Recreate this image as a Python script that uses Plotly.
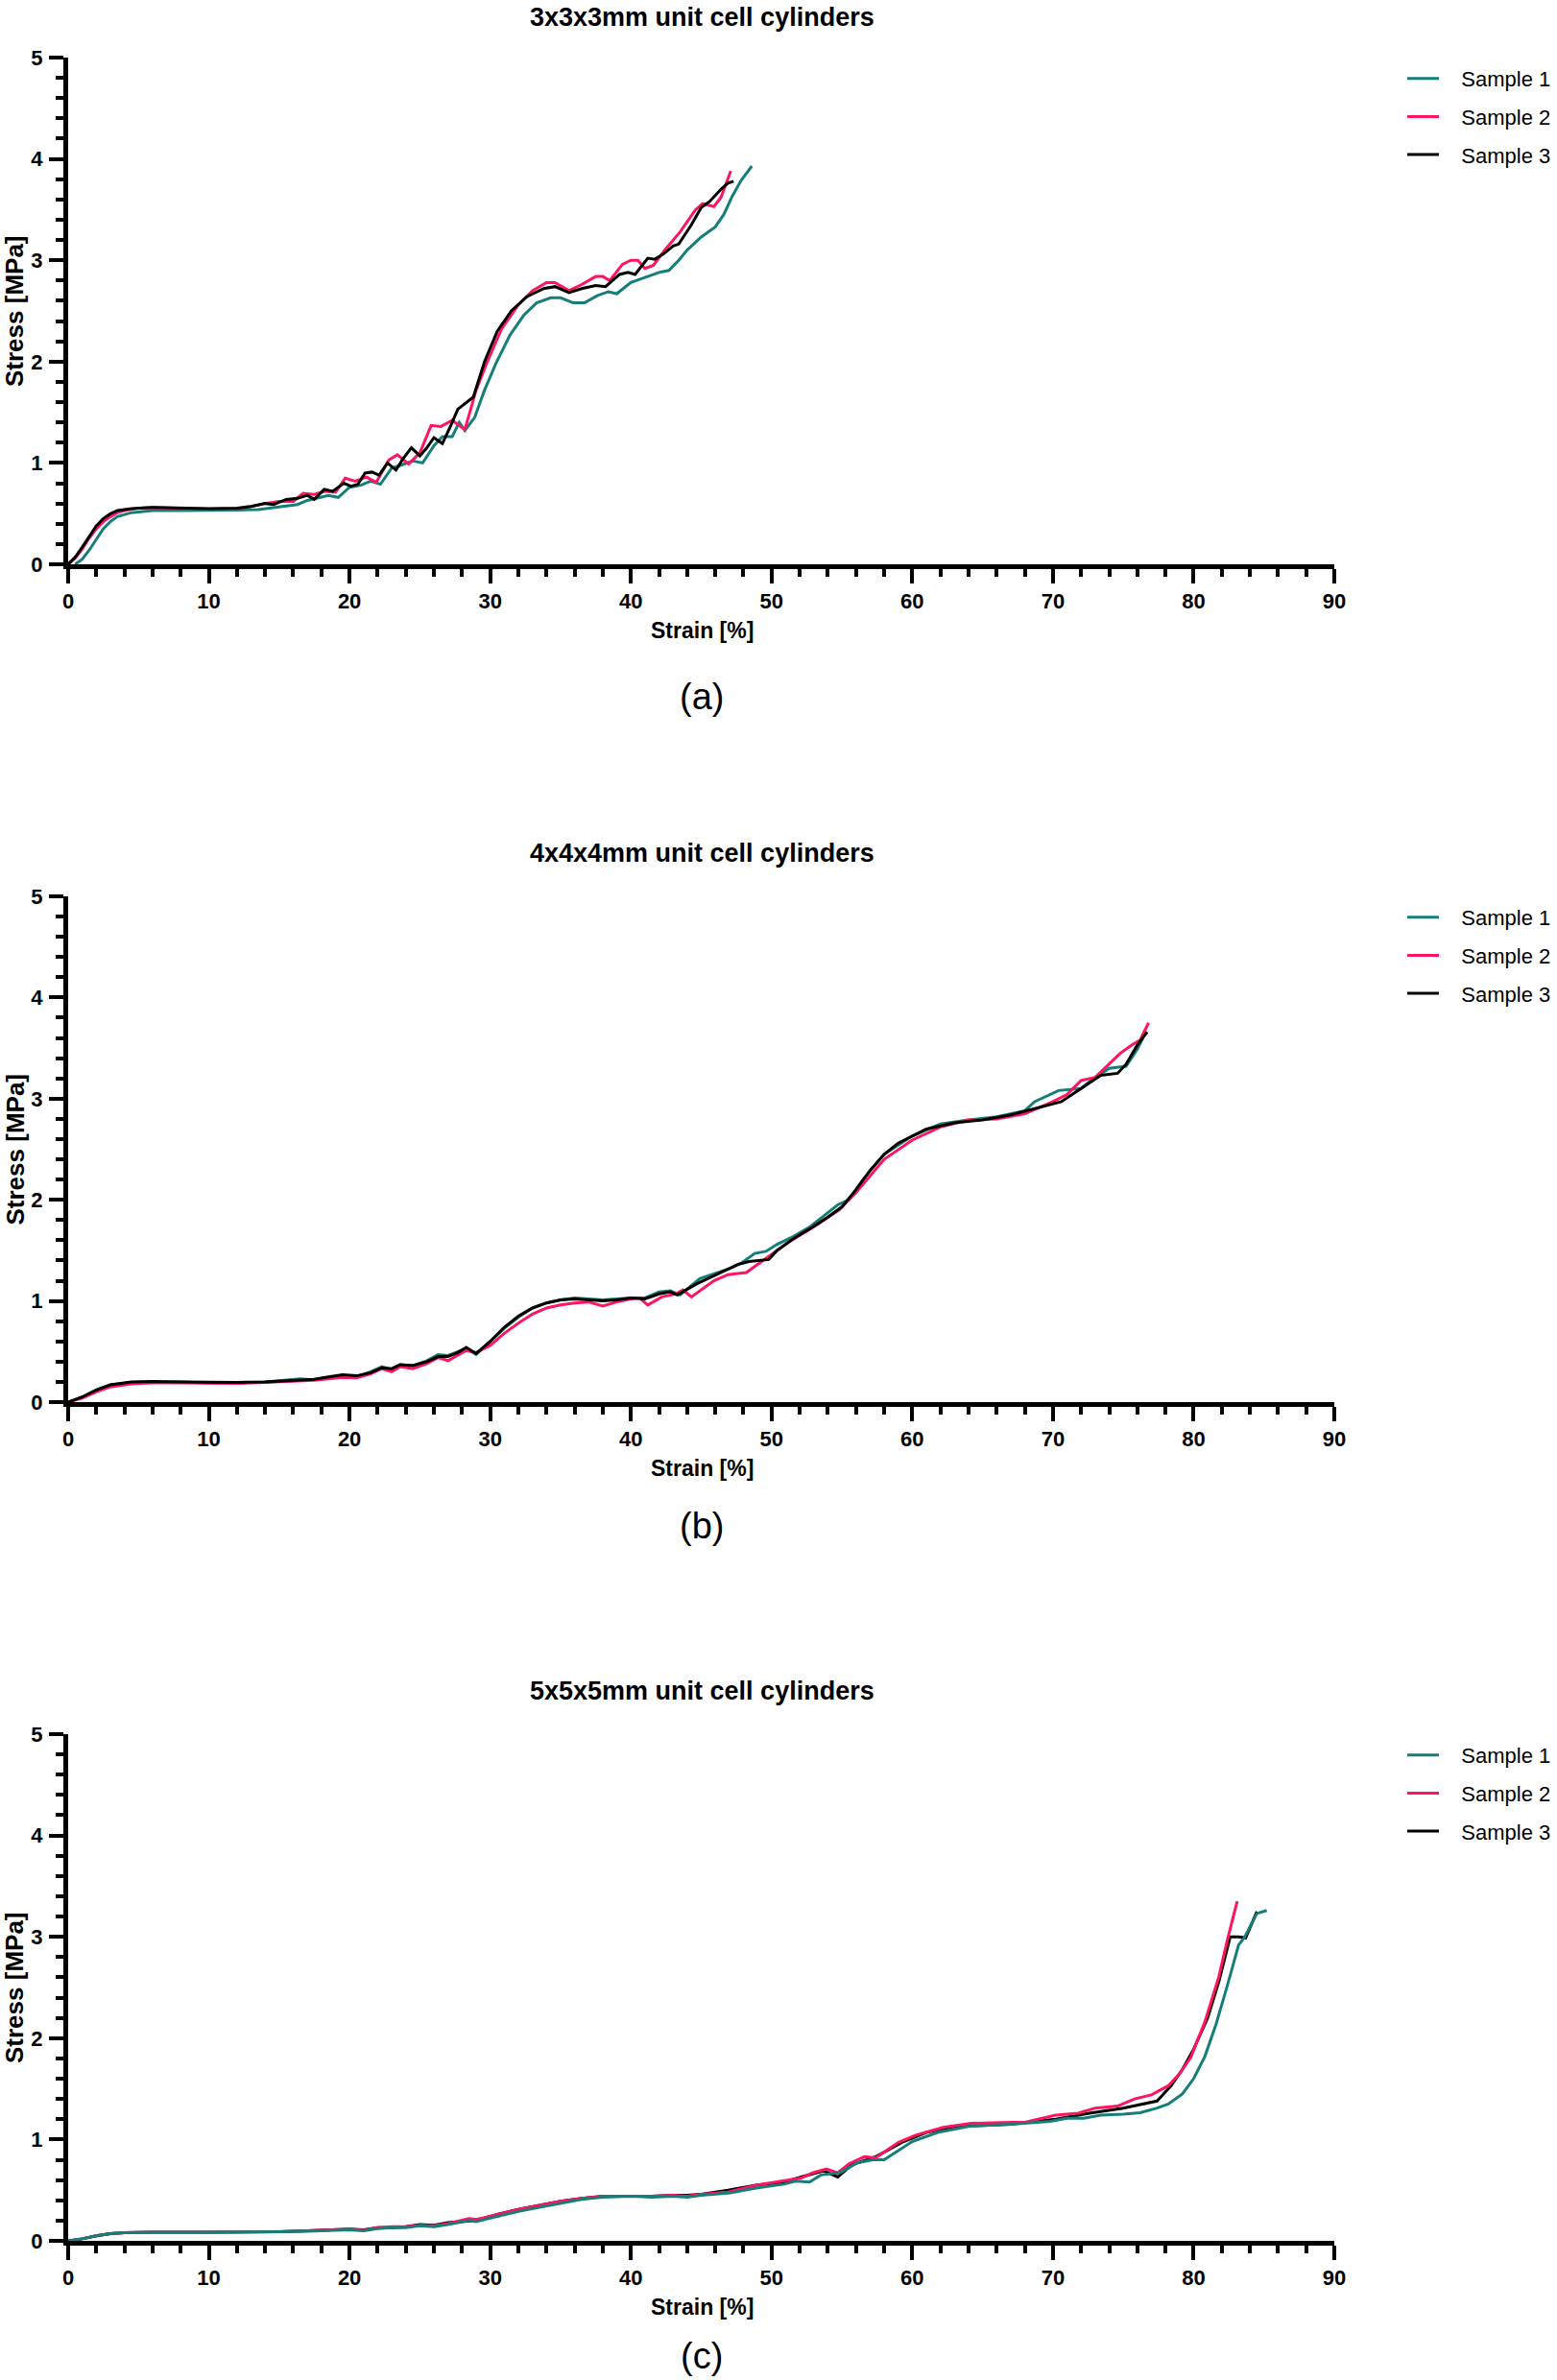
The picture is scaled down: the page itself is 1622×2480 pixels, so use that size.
import plotly.graph_objects as go

# ---------------- Data ----------------
# Panel (a) 3x3x3mm
a_s1_strain = [0.5, 1.0, 1.5, 2.0, 2.5, 3.0, 3.5, 4.5, 6, 8, 10, 12, 13.5, 14.5, 15.5, 16.3, 17, 17.8, 18.5, 19.2, 20, 20.8, 21.5, 22.2, 23, 23.7, 24.5, 25.2, 26, 26.6, 27.3, 27.8, 28.2, 28.9, 29.6, 30.4, 31.4, 32.4, 33.3, 34.3, 35, 35.9, 36.7, 37.6, 38.4, 39, 40, 41, 42, 42.7, 43.4, 44, 45, 46, 46.6, 47.2, 47.8, 48.6]
a_s1_stress = [0, 0.05, 0.14, 0.25, 0.35, 0.42, 0.47, 0.51, 0.53, 0.53, 0.53, 0.535, 0.54, 0.56, 0.58, 0.59, 0.63, 0.66, 0.68, 0.66, 0.76, 0.78, 0.82, 0.79, 0.95, 0.98, 1.02, 1.0, 1.17, 1.26, 1.26, 1.4, 1.32, 1.45, 1.72, 1.98, 2.26, 2.46, 2.58, 2.63, 2.63, 2.58, 2.58, 2.65, 2.69, 2.67, 2.78, 2.83, 2.88, 2.9, 3.0, 3.1, 3.23, 3.33, 3.45, 3.63, 3.78, 3.93]

a_s2_strain = [0, 0.5, 1, 1.5, 2, 2.5, 3, 3.5, 4, 5, 6, 8, 10, 12, 13, 14, 15, 16, 16.7, 17.5, 18.2, 19, 19.7, 20.4, 21.2, 21.9, 22.8, 23.4, 24.2, 25, 25.8, 26.5, 27.3, 28.2, 29, 29.8, 30.8, 32, 33, 34, 34.6, 35.6, 36.5, 37.5, 38, 38.5, 39.4, 40, 40.5, 41, 41.6, 42.4, 43.5, 44.6, 45.1, 45.9, 46.4, 47.1]
a_s2_stress = [0, 0.06, 0.15, 0.26, 0.35, 0.42, 0.47, 0.51, 0.53, 0.555, 0.56, 0.555, 0.545, 0.55, 0.57, 0.6, 0.62, 0.62, 0.7, 0.69, 0.72, 0.71, 0.85, 0.82, 0.86, 0.81, 1.03, 1.08, 0.99, 1.1, 1.37, 1.36, 1.42, 1.33, 1.72, 2.0, 2.32, 2.56, 2.7, 2.78, 2.78, 2.7, 2.76, 2.84, 2.84, 2.8, 2.96, 3.0, 3.0, 2.92, 2.95, 3.1, 3.28, 3.5, 3.56, 3.53, 3.62, 3.88]

a_s3_strain = [0, 0.5, 1, 1.5, 2, 2.5, 3, 3.5, 4.5, 6, 8, 10, 12, 13, 14, 14.6, 15.5, 16.3, 17, 17.5, 18.2, 18.8, 19.6, 20.1, 20.6, 21.1, 21.6, 22.1, 22.7, 23.3, 23.8, 24.4, 25, 25.5, 26, 26.6, 27.2, 27.7, 28.8, 29.6, 30.5, 31.5, 32.6, 33.8, 34.6, 35.6, 36.5, 37.5, 38.2, 39.2, 39.8, 40.3, 41.2, 41.7, 42.3, 43, 43.4, 44.3, 45, 45.6, 46.4, 46.9, 47.3]
a_s3_stress = [0, 0.07, 0.17, 0.28, 0.38, 0.45, 0.5, 0.53, 0.55, 0.56, 0.555, 0.55, 0.555, 0.57, 0.6, 0.59, 0.64, 0.65, 0.68, 0.64, 0.74, 0.72, 0.8, 0.77, 0.79, 0.9, 0.91, 0.88, 1.0, 0.93, 1.04, 1.15, 1.07, 1.15, 1.25, 1.19, 1.37, 1.53, 1.65, 2.0, 2.3, 2.5, 2.64, 2.72, 2.74, 2.68, 2.72, 2.75, 2.74, 2.86, 2.88, 2.86, 3.02, 3.01, 3.06, 3.14, 3.16, 3.35, 3.52, 3.58, 3.7, 3.76, 3.78]

# Panel (b) 4x4x4mm
b_s1_strain = [0, 1, 2, 3, 4.5, 6, 8, 10, 12, 14, 15.5, 16.5, 17.3, 18.5, 19.5, 20.5, 21.5, 22.3, 23, 23.6, 24.5, 25.5, 26.3, 27, 27.7, 28.3, 29, 30, 31, 32, 33, 34, 35, 36, 37, 38, 39, 40, 41, 42, 42.8, 43.5, 44.9, 46.1, 47, 47.8, 48.8, 49.6, 50.4, 51.6, 52.7, 53.7, 54.7, 55.5, 56.5, 58, 60, 62, 64, 66, 68, 68.7, 70.4, 72, 72.8, 74, 75.2, 76, 76.4]
b_s1_stress = [0, 0.05, 0.12, 0.17, 0.195, 0.2, 0.2, 0.19, 0.19, 0.2, 0.215, 0.23, 0.22, 0.245, 0.26, 0.25, 0.3, 0.35, 0.32, 0.37, 0.36, 0.41, 0.47, 0.46, 0.5, 0.53, 0.47, 0.6, 0.73, 0.84, 0.93, 0.98, 1.01, 1.03, 1.02, 1.01, 1.02, 1.03, 1.03, 1.09, 1.1, 1.06, 1.22, 1.28, 1.32, 1.37, 1.47, 1.49, 1.56, 1.64, 1.73, 1.84, 1.95, 2.0, 2.2, 2.45, 2.63, 2.75, 2.79, 2.82, 2.88, 2.97, 3.08, 3.1, 3.19, 3.3, 3.32, 3.49, 3.6]

b_s2_strain = [0, 1, 2, 3, 4.5, 6, 8, 10, 12, 14, 15.5, 16.5, 17.5, 18.5, 19.5, 20.5, 21.5, 22.3, 23, 23.6, 24.5, 25.5, 26.3, 27, 27.7, 28.3, 29, 30, 31, 32, 33, 34, 35, 36, 37, 38, 39, 40, 40.6, 41.2, 42.2, 43.2, 43.7, 44.3, 45.9, 46.9, 48.2, 49.6, 51.2, 53.1, 54.8, 56, 58, 60, 62, 64, 66, 68, 70, 71, 72, 73, 74, 74.8, 75.6, 76.2, 76.8]
b_s2_stress = [0, 0.04, 0.1, 0.15, 0.18, 0.19, 0.19, 0.185, 0.185, 0.195, 0.205, 0.21, 0.215, 0.23, 0.245, 0.24, 0.28, 0.33, 0.3, 0.35, 0.33, 0.38, 0.44, 0.41, 0.46, 0.51, 0.49, 0.56, 0.68, 0.78, 0.87, 0.93, 0.96, 0.98, 0.99, 0.95, 0.99, 1.02, 1.03, 0.96, 1.04, 1.07, 1.11, 1.04, 1.2, 1.26, 1.28, 1.42, 1.58, 1.74, 1.9, 2.07, 2.4, 2.59, 2.72, 2.79, 2.8, 2.85, 2.97, 3.04, 3.18, 3.21, 3.34, 3.45, 3.53, 3.58, 3.75]

b_s3_strain = [0, 1, 2, 3, 4.5, 6, 8, 10, 12, 14, 15.5, 16.5, 17.5, 18.5, 19.5, 20.5, 21.5, 22.3, 23, 23.6, 24.5, 25.5, 26.3, 27, 27.7, 28.3, 29, 30, 31, 32, 33, 34, 35, 36, 37, 38, 39, 40, 41, 42, 42.8, 43.3, 44.7, 46.1, 47.6, 48.4, 49.8, 50.4, 51.6, 52.9, 53.9, 55, 56, 57, 58, 59, 61, 63, 65, 67, 69, 70.6, 71.8, 73.4, 74.6, 75.2, 76, 76.7]
b_s3_stress = [0, 0.05, 0.12, 0.17, 0.2, 0.205, 0.2, 0.195, 0.195, 0.2, 0.21, 0.22, 0.225, 0.25, 0.27, 0.26, 0.29, 0.34, 0.33, 0.37, 0.36, 0.4, 0.45, 0.45, 0.49, 0.54, 0.48, 0.6, 0.74, 0.85, 0.93, 0.98, 1.01, 1.02, 1.01, 1.0, 1.01, 1.03, 1.02, 1.07, 1.09, 1.06, 1.17, 1.26, 1.36, 1.39, 1.41, 1.5, 1.62, 1.73, 1.82, 1.93, 2.1, 2.29, 2.45, 2.56, 2.7, 2.76, 2.79, 2.84, 2.91, 2.97, 3.08, 3.23, 3.25, 3.34, 3.53, 3.66]

# Panel (c) 5x5x5mm
c_s1_strain = [0, 1, 2, 3, 4, 6, 10, 13, 15, 17, 18, 19, 20, 21, 22, 23, 24, 25, 26, 27, 28.5, 29, 30.5, 32, 33.5, 35, 36.5, 38, 40, 41.5, 43, 44, 45, 46.9, 48.9, 50.9, 51.7, 52.7, 53.5, 54.9, 56.1, 57.2, 58, 60, 61.8, 64, 67, 69.8, 71, 72.2, 73.4, 75, 76.2, 77.4, 78.2, 79.2, 80, 80.8, 81.6, 82.4, 83.2, 83.6, 84.5, 85.2]
c_s1_stress = [0, 0.02, 0.05, 0.07, 0.08, 0.085, 0.085, 0.085, 0.09, 0.095, 0.1, 0.11, 0.11, 0.1, 0.12, 0.13, 0.13, 0.15, 0.14, 0.16, 0.2, 0.19, 0.24, 0.29, 0.33, 0.37, 0.41, 0.43, 0.44, 0.43, 0.44, 0.43, 0.45, 0.47, 0.52, 0.56, 0.59, 0.58, 0.65, 0.675, 0.77, 0.8, 0.8, 0.98, 1.07, 1.13, 1.15, 1.18, 1.21, 1.21, 1.24, 1.25, 1.265, 1.31, 1.35, 1.45, 1.6, 1.82, 2.14, 2.52, 2.92, 2.99, 3.23, 3.26]

c_s2_strain = [0, 1, 2, 3, 4, 6, 10, 13, 15, 17, 18, 19, 20, 21, 22, 23, 24, 25, 26, 27, 28.5, 29, 30.5, 32, 33.5, 35, 36.5, 38, 40, 41.5, 43, 44, 45, 46.9, 48.9, 50.9, 52.1, 52.9, 53.9, 54.7, 55.5, 56.6, 57.4, 59, 60.2, 62.2, 64.2, 67, 68, 70.2, 71.8, 73, 74.6, 75.8, 77, 78.2, 79, 79.8, 80.8, 81.8, 82.4, 83.1]
c_s2_stress = [0, 0.02, 0.05, 0.07, 0.08, 0.085, 0.085, 0.085, 0.09, 0.1, 0.105, 0.115, 0.115, 0.105, 0.13, 0.14, 0.14, 0.155, 0.15, 0.17, 0.22, 0.21, 0.26, 0.31, 0.35, 0.39, 0.42, 0.44, 0.44, 0.44, 0.45, 0.44, 0.46, 0.48, 0.55, 0.595, 0.62, 0.67, 0.71, 0.67, 0.76, 0.83, 0.82, 0.97, 1.04, 1.12, 1.16, 1.17, 1.17, 1.24, 1.26, 1.31, 1.33, 1.4, 1.44, 1.53, 1.65, 1.81, 2.16, 2.61, 2.97, 3.35]

c_s3_strain = [0, 1, 2, 3, 4, 6, 10, 13, 15, 17, 18, 19, 20, 21, 22, 23, 24, 25, 26, 27, 28.5, 29, 30.5, 32, 33.5, 35, 36.5, 38, 40, 41.5, 43, 44, 45, 46.9, 48.9, 50.9, 52.1, 53.7, 54.7, 55.7, 57.4, 59.4, 61, 63, 67, 70.2, 72.6, 75, 77.4, 78.4, 79.2, 80, 81, 81.8, 82.6, 83.2, 83.7, 84.5]
c_s3_stress = [0, 0.02, 0.05, 0.07, 0.08, 0.085, 0.085, 0.085, 0.09, 0.1, 0.105, 0.11, 0.115, 0.11, 0.13, 0.13, 0.14, 0.16, 0.155, 0.18, 0.2, 0.2, 0.26, 0.31, 0.35, 0.39, 0.42, 0.44, 0.44, 0.44, 0.45, 0.45, 0.46, 0.5, 0.55, 0.58, 0.63, 0.69, 0.63, 0.75, 0.83, 0.98, 1.07, 1.13, 1.15, 1.2, 1.26, 1.31, 1.38, 1.53, 1.69, 1.89, 2.2, 2.56, 3.0, 3.0, 2.99, 3.25]

titles = ["3x3x3mm unit cell cylinders", "4x4x4mm unit cell cylinders", "5x5x5mm unit cell cylinders"]
panel_labels = ["(a)", "(b)", "(c)"]
series_names = ["Sample 1", "Sample 2", "Sample 3"]
x_label = "Strain [%]"
y_label = "Stress [MPa]"
x_ticks = [0, 10, 20, 30, 40, 50, 60, 70, 80, 90]
y_ticks = [0, 1, 2, 3, 4, 5]

# ---------------- Styling ----------------
W, H = 1622, 2480
COLORS = ["#167e7a", "#ff1462", "#000000"]
FONT = "Liberation Sans, Arial, Helvetica, sans-serif"
NBSP = "\u00a0"

def py(p):
    return 1 - p / H

def px(p):
    return p / W

x_dom = [px(71), px(1390)]
panels = [  # (top px, bottom px)
    (60, 588),
    (934, 1461),
    (1807, 2335),
]
title_gap = [42, 45, 45]
label_gap = [138, 129, 120]

data = [
    [(a_s1_strain, a_s1_stress), (a_s2_strain, a_s2_stress), (a_s3_strain, a_s3_stress)],
    [(b_s1_strain, b_s1_stress), (b_s2_strain, b_s2_stress), (b_s3_strain, b_s3_stress)],
    [(c_s1_strain, c_s1_stress), (c_s2_strain, c_s2_stress), (c_s3_strain, c_s3_stress)],
]
draw_orders = [[0, 1, 2], [0, 1, 2], [2, 1, 0]]

fig = go.Figure()
annotations = []
layout_axes = {}

for i, (top, bot) in enumerate(panels):
    n = "" if i == 0 else str(i + 1)
    xa, ya = "x" + n, "y" + n
    leg = "legend" + n
    for k in draw_orders[i]:
        xs, ys = data[i][k]
        fig.add_trace(go.Scatter(
            x=xs, y=ys, mode="lines", name=NBSP * 3 + series_names[k],
            line=dict(color=COLORS[k], width=3),
            xaxis=xa, yaxis=ya, legend=leg,
            legendgroup=f"p{i}s{k}", legendrank=k + 1,
        ))
    common = dict(
        showline=True, linecolor="black", linewidth=5,
        ticks="outside", tickcolor="black", tickwidth=4, ticklen=15,
        showgrid=False, zeroline=False, automargin=False,
        tickfont=dict(family=FONT, size=22, color="black", weight="bold"),
    )
    layout_axes["xaxis" + n] = dict(
        common, domain=x_dom, range=[0, 90],
        tickvals=x_ticks, ticktext=[f"<b>{t}</b>" for t in x_ticks],
        anchor=ya, fixedrange=True,
        minor=dict(dtick=2, ticks="outside", ticklen=8, tickwidth=4, tickcolor="black"),
    )
    layout_axes["yaxis" + n] = dict(
        common, domain=[py(bot), py(top)], range=[0, 5],
        tickvals=y_ticks, ticktext=[f"<b>{t}</b>" for t in y_ticks],
        anchor=xa, fixedrange=True, ticklabelstandoff=2,
        minor=dict(dtick=0.2, ticks="outside", ticklen=8, tickwidth=4, tickcolor="black"),
    )
    layout_axes[leg] = dict(
        x=px(1461), y=py(top + 1), xanchor="left", yanchor="top",
        font=dict(family=FONT, size=22, color="black"),
        bgcolor="rgba(0,0,0,0)", tracegroupgap=8, itemwidth=33,
        traceorder="grouped",
    )
    cx = px(731)
    annotations.append(dict(text=titles[i], x=cx, y=py(top - title_gap[i]), xref="paper", yref="paper",
                            showarrow=False, xanchor="center", yanchor="middle",
                            font=dict(family=FONT, size=27, color="black", weight="bold")))
    annotations.append(dict(text=x_label, x=cx, y=py(bot + 69), xref="paper", yref="paper",
                            showarrow=False, xanchor="center", yanchor="middle",
                            font=dict(family=FONT, size=23, color="black", weight="bold")))
    annotations.append(dict(text=y_label, x=px(15), y=py((top + bot) / 2), xref="paper", yref="paper",
                            showarrow=False, xanchor="center", yanchor="middle", textangle=-90,
                            font=dict(family=FONT, size=26, color="black", weight="bold")))
    annotations.append(dict(text=panel_labels[i], x=cx, y=py(bot + label_gap[i]), xref="paper", yref="paper",
                            showarrow=False, xanchor="center", yanchor="middle",
                            font=dict(family=FONT, size=38, color="black")))

fig.update_layout(
    width=W, height=H, autosize=False,
    margin=dict(l=0, r=0, t=0, b=0, pad=0, autoexpand=False),
    paper_bgcolor="white", plot_bgcolor="white",
    showlegend=True,
    annotations=annotations,
    **layout_axes,
)

# Remove the browser's default page margin and scrollbars so the figure fills the window.
fig.write_html(
    "out.html",
    config={"displayModeBar": False},
    post_script="document.body.style.margin='0';document.documentElement.style.overflow='hidden';document.body.style.overflow='hidden';",
)
